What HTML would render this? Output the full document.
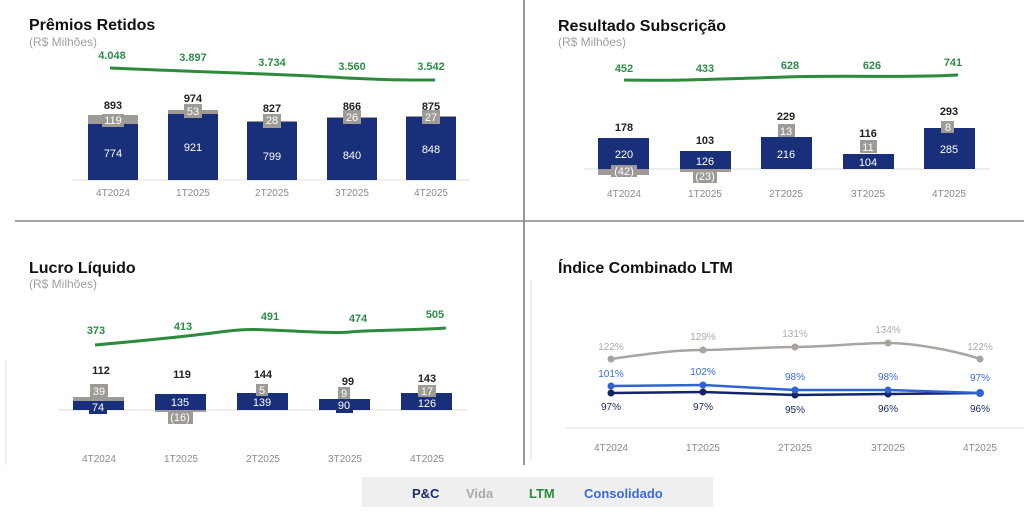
<!DOCTYPE html>
<html><head><meta charset="utf-8"><style>
body{margin:0;background:#fff;width:1024px;height:507px;overflow:hidden}
svg{font-family:"Liberation Sans",sans-serif}
.t{font-size:16px;font-weight:bold;fill:#111}
.s{font-size:12px;fill:#a0a0a0}
.ax{font-size:10px;fill:#8a8a8a;text-anchor:middle}
.g{font-size:11px;font-weight:bold;fill:#2e8b4a;text-anchor:middle}
.k{font-size:11px;font-weight:bold;fill:#222;text-anchor:middle}
.w{font-size:11px;fill:#fff;text-anchor:middle}
.n{fill:#1a2f7a}.gr{fill:#9e9a96}
.p{font-size:10px;text-anchor:middle}
</style></head><body>
<svg width="1024" height="507" viewBox="0 0 1024 507">
<line x1="524" y1="0" x2="524" y2="465" stroke="#777" stroke-width="1.5"/>
<line x1="15" y1="221" x2="1024" y2="221" stroke="#888" stroke-width="1.5"/>
<line x1="531" y1="280" x2="531" y2="460" stroke="#ddd"/>
<line x1="6" y1="360" x2="6" y2="465" stroke="#ddd"/>

<!-- Panel 1 -->
<text x="29" y="30" class="t">Prêmios Retidos</text>
<text x="29" y="46" class="s">(R$ Milhões)</text>
<path d="M110,68 C200,72 280,74 330,77 S400,80 435,80" stroke="#2e8b3e" stroke-width="3" fill="none"/>
<g class="g"><text x="112" y="59">4.048</text><text x="193" y="61">3.897</text><text x="272" y="66">3.734</text><text x="352" y="70">3.560</text><text x="431" y="70">3.542</text></g>
<line x1="73" y1="180" x2="470" y2="180" stroke="#ddd"/>
<rect x="88" y="115" width="50" height="9" class="gr"/><rect x="88" y="124" width="50" height="56" class="n"/>
<rect x="168" y="110" width="50" height="4" class="gr"/><rect x="168" y="114" width="50" height="66" class="n"/>
<rect x="247" y="121" width="50" height="1" class="gr"/><rect x="247" y="122" width="50" height="58" class="n"/>
<rect x="327" y="117" width="50" height="1" class="gr"/><rect x="327" y="118" width="50" height="62" class="n"/>
<rect x="406" y="116" width="50" height="1" class="gr"/><rect x="406" y="117" width="50" height="63" class="n"/>
<g class="gr"><rect x="102" y="114" width="22" height="13"/><rect x="184" y="104" width="18" height="14"/><rect x="263" y="114" width="18" height="14"/><rect x="343" y="110" width="18" height="14"/><rect x="422" y="110" width="18" height="14"/></g>
<g class="w"><text x="113" y="124">119</text><text x="193" y="115">53</text><text x="272" y="124">28</text><text x="352" y="121">26</text><text x="431" y="121">27</text>
<text x="113" y="157">774</text><text x="193" y="151">921</text><text x="272" y="160">799</text><text x="352" y="159">840</text><text x="431" y="153">848</text></g>
<g class="k"><text x="113" y="109">893</text><text x="193" y="102">974</text><text x="272" y="112">827</text><text x="352" y="110">866</text><text x="431" y="110">875</text></g>
<g class="ax"><text x="113" y="196">4T2024</text><text x="193" y="196">1T2025</text><text x="272" y="196">2T2025</text><text x="352" y="196">3T2025</text><text x="431" y="196">4T2025</text></g>

<!-- Panel 2 -->
<text x="558" y="31" class="t">Resultado Subscrição</text>
<text x="558" y="46" class="s">(R$ Milhões)</text>
<path d="M624,80 C680,81 720,79 786,77 S900,78 958,75" stroke="#2e8b3e" stroke-width="3" fill="none"/>
<g class="g"><text x="624" y="72">452</text><text x="705" y="72">433</text><text x="790" y="69">628</text><text x="872" y="69">626</text><text x="953" y="66">741</text></g>
<line x1="584" y1="169" x2="990" y2="169" stroke="#ddd"/>
<rect x="598" y="138" width="51" height="31" class="n"/><rect x="598" y="169" width="51" height="6" class="gr"/>
<rect x="680" y="151" width="51" height="18" class="n"/><rect x="680" y="169" width="51" height="3" class="gr"/>
<rect x="761" y="137" width="51" height="32" class="n"/>
<rect x="843" y="154" width="51" height="15" class="n"/>
<rect x="924" y="128" width="51" height="41" class="n"/>
<g class="gr"><rect x="611" y="165" width="26" height="12"/><rect x="693" y="170" width="24" height="13"/><rect x="778" y="124" width="17" height="13"/><rect x="860" y="140" width="17" height="13"/><rect x="941" y="121" width="13" height="12"/></g>
<g class="w"><text x="624" y="158">220</text><text x="705" y="165">126</text><text x="786" y="158">216</text><text x="868" y="166">104</text><text x="949" y="153">285</text>
<text x="624" y="175">(42)</text><text x="705" y="180">(23)</text><text x="786" y="135">13</text><text x="868" y="151">11</text><text x="948" y="131">8</text></g>
<g class="k"><text x="624" y="131">178</text><text x="705" y="144">103</text><text x="786" y="120">229</text><text x="868" y="137">116</text><text x="949" y="115">293</text></g>
<g class="ax"><text x="624" y="197">4T2024</text><text x="705" y="197">1T2025</text><text x="786" y="197">2T2025</text><text x="868" y="197">3T2025</text><text x="949" y="197">4T2025</text></g>

<!-- Panel 3 -->
<text x="29" y="273" class="t">Lucro Líquido</text>
<text x="29" y="288" class="s">(R$ Milhões)</text>
<path d="M95,345 C150,340 190,336 220,332 S260,330 270,330 S330,334 350,332 S420,330 446,328" stroke="#2e8b3e" stroke-width="3" fill="none"/>
<g class="g"><text x="96" y="334">373</text><text x="183" y="330">413</text><text x="270" y="320">491</text><text x="358" y="322">474</text><text x="435" y="318">505</text></g>
<line x1="58" y1="410" x2="468" y2="410" stroke="#ddd"/>
<rect x="73" y="397" width="51" height="4" class="gr"/><rect x="73" y="401" width="51" height="9" class="n"/><rect x="89" y="404" width="18" height="10" class="n"/>
<rect x="155" y="394" width="51" height="16" class="n"/><rect x="155" y="410" width="51" height="2" class="gr"/>
<rect x="237" y="393" width="51" height="17" class="n"/>
<rect x="319" y="399" width="51" height="11" class="n"/><rect x="336" y="406" width="17" height="7" class="n"/>
<rect x="401" y="393" width="51" height="17" class="n"/>
<g class="gr"><rect x="90" y="384" width="18" height="13"/><rect x="168" y="410" width="25" height="14"/><rect x="256" y="384" width="12" height="12"/><rect x="338" y="387" width="12" height="12"/><rect x="418" y="385" width="18" height="12"/></g>
<g class="w"><text x="99" y="395">39</text><text x="98" y="411">74</text><text x="180" y="406">135</text><text x="180" y="421">(16)</text><text x="262" y="394">5</text><text x="262" y="406">139</text><text x="344" y="397">9</text><text x="344" y="409">90</text><text x="427" y="395">17</text><text x="427" y="407">126</text></g>
<g class="k"><text x="101" y="374">112</text><text x="182" y="378">119</text><text x="263" y="378">144</text><text x="348" y="385">99</text><text x="427" y="382">143</text></g>
<g class="ax"><text x="99" y="462">4T2024</text><text x="181" y="462">1T2025</text><text x="263" y="462">2T2025</text><text x="345" y="462">3T2025</text><text x="427" y="462">4T2025</text></g>

<!-- Panel 4 -->
<text x="558" y="273" class="t">Índice Combinado LTM</text>
<line x1="565" y1="428" x2="1024" y2="428" stroke="#ddd"/>
<path d="M611,359 C660,352 680,350 703,350 S770,347 795,347 S860,343 888,343 S960,352 980,359" stroke="#a8a5a1" stroke-width="2.5" fill="none"/>
<path d="M611,393 L703,392 L795,395 L888,394 L980,393" stroke="#14246a" stroke-width="2.5" fill="none"/>
<path d="M611,386 L703,385 L795,390 L888,390 L980,393" stroke="#2f63d6" stroke-width="2.5" fill="none"/>
<g fill="#a8a5a1"><circle cx="611" cy="359" r="3.5"/><circle cx="703" cy="350" r="3.5"/><circle cx="795" cy="347" r="3.5"/><circle cx="888" cy="343" r="3.5"/><circle cx="980" cy="359" r="3.5"/></g>
<g fill="#14246a"><circle cx="611" cy="393" r="3.5"/><circle cx="703" cy="392" r="3.5"/><circle cx="795" cy="395" r="3.5"/><circle cx="888" cy="394" r="3.5"/></g>
<g fill="#2f63d6"><circle cx="611" cy="386" r="3.5"/><circle cx="703" cy="385" r="3.5"/><circle cx="795" cy="390" r="3.5"/><circle cx="888" cy="390" r="3.5"/><circle cx="980" cy="393" r="4"/></g>
<g class="p" fill="#aaa"><text x="611" y="350">122%</text><text x="703" y="340">129%</text><text x="795" y="337">131%</text><text x="888" y="333">134%</text><text x="980" y="350">122%</text></g>
<g class="p" fill="#3a6ad8"><text x="611" y="377">101%</text><text x="703" y="375">102%</text><text x="795" y="380">98%</text><text x="888" y="380">98%</text><text x="980" y="381">97%</text></g>
<g class="p" fill="#1a2a6a"><text x="611" y="410">97%</text><text x="703" y="410">97%</text><text x="795" y="413">95%</text><text x="888" y="412">96%</text><text x="980" y="412">96%</text></g>
<g class="ax"><text x="611" y="451">4T2024</text><text x="703" y="451">1T2025</text><text x="795" y="451">2T2025</text><text x="888" y="451">3T2025</text><text x="980" y="451">4T2025</text></g>

<!-- Legend -->
<rect x="362" y="477" width="351" height="30" fill="#efefef"/>
<g font-size="13" font-weight="bold"><text x="412" y="498" fill="#1a2a6a">P&amp;C</text><text x="466" y="498" fill="#aaa">Vida</text><text x="529" y="498" fill="#2e8b3e">LTM</text><text x="584" y="498" fill="#3a6ad8">Consolidado</text></g>
</svg>
</body></html>
